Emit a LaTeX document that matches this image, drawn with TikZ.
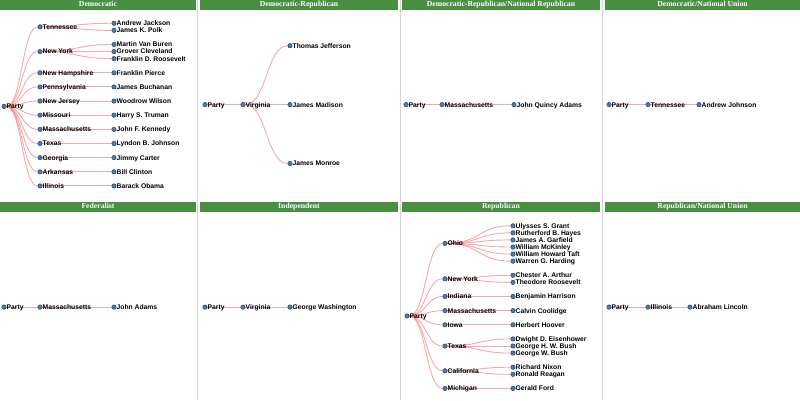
\documentclass[tikz,border=0pt]{standalone}
\usepackage{fontspec}
\setmainfont{Liberation Serif}
\setsansfont{Liberation Sans}
\usetikzlibrary{backgrounds}

\definecolor{headgreen}{RGB}{72,143,66}
\definecolor{dotblue}{RGB}{70,125,180}
\definecolor{linkred}{RGB}{240,110,110}
\definecolor{sepgray}{RGB}{212,212,212}

\begin{document}
\begin{tikzpicture}[x=1pt,y=-1pt,
    dot/.style={circle,fill=dotblue,draw=dotblue!55!black,line width=0.5pt,inner sep=0pt,minimum size=4.4pt,label distance=2.2pt},
    lbl/.style={font=\sffamily\bfseries\fontsize{6.75}{7}\selectfont,inner sep=0pt,text height=4.8pt,text depth=0pt},
    link/.style={draw=linkred,line width=0.9pt,opacity=0.6},
    sep/.style={draw=sepgray,line width=0.8pt},
    head/.style={fill=headgreen,text=white,font=\rmfamily\bfseries\fontsize{7.7}{8}\selectfont,inner sep=0pt,minimum height=10pt,text height=5.2pt,text depth=1.4pt}]
    \useasboundingbox (0,0) rectangle (800,400);

    % panel borders
    \draw[sep] (197.8,0) -- (197.8,400);
    \draw[sep] (400.2,0) -- (400.2,400);
    \draw[sep] (602.5,0) -- (602.5,400);

    % headers
    \node[head,minimum width=196pt] (hdrDem) at (98,5) {Democratic};
    \node[head,minimum width=198pt] (hdrDR) at (299,5) {Democratic-Republican};
    \node[head,minimum width=198pt] (hdrDRNR) at (501,5) {Democratic-Republican/National Republican};
    \node[head,minimum width=195pt] (hdrDNU) at (702.5,5) {Democratic/National Union};
    \node[head,minimum width=196pt] (hdrFed) at (98,206.5) {Federalist};
    \node[head,minimum width=198pt] (hdrInd) at (299,206.5) {Independent};
    \node[head,minimum width=198pt] (hdrRep) at (501,206.5) {Republican};
    \node[head,minimum width=195pt] (hdrRNU) at (702.5,206.5) {Republican/National Union};

    % Democratic
    \node[dot,label={[lbl]right:Party}] (demParty) at (4,106.4) {};
    \foreach \n/\t/\k in {demTN/Tennessee/1.5, demNY/New York/5, demNH/New Hampshire/8,
        demPA/Pennsylvania/10, demNJ/New Jersey/12, demMO/Missouri/14, demMA/Massachusetts/16,
        demTX/Texas/18, demGA/Georgia/20, demAR/Arkansas/22, demIL/Illinois/24} {
        \node[dot,label={[lbl]right:\t}] (\n) at (40,{16.2+7.072*\k}) {};
        \begin{scope}[on background layer]
            \draw[link] (demParty) .. controls +(18,0) and +(-18,0) .. (\n);
        \end{scope}
    }
    \foreach \n/\t/\k/\p in {demJackson/Andrew Jackson/1/demTN, demPolk/James K. Polk/2/demTN,
        demVanBuren/Martin Van Buren/4/demNY, demCleveland/Grover Cleveland/5/demNY,
        demFDR/Franklin D. Roosevelt/6/demNY, demPierce/Franklin Pierce/8/demNH,
        demBuchanan/James Buchanan/10/demPA, demWilson/Woodrow Wilson/12/demNJ,
        demTruman/Harry S. Truman/14/demMO, demKennedy/John F. Kennedy/16/demMA,
        demLBJ/Lyndon B. Johnson/18/demTX, demCarter/Jimmy Carter/20/demGA,
        demClinton/Bill Clinton/22/demAR, demObama/Barack Obama/24/demIL} {
        \node[dot,label={[lbl]right:\t}] (\n) at (114,{16.2+7.072*\k}) {};
        \begin{scope}[on background layer]
            \draw[link] (\p) .. controls +(37,0) and +(-37,0) .. (\n);
        \end{scope}
    }

    % Democratic-Republican
    \node[dot,label={[lbl]right:Party}] (drParty) at (205,104.6) {};
    \node[dot,label={[lbl]right:Virginia}] (drVA) at (243,104.6) {};
    \node[dot,label={[lbl]right:Thomas Jefferson}] (drJefferson) at (290,45.7) {};
    \node[dot,label={[lbl]right:James Madison}] (drMadison) at (290,104.6) {};
    \node[dot,label={[lbl]right:James Monroe}] (drMonroe) at (290,163.5) {};
    \begin{scope}[on background layer]
        \draw[link] (drParty) -- (drVA);
        \foreach \n in {drJefferson,drMadison,drMonroe}
            \draw[link] (drVA) .. controls +(23.5,0) and +(-23.5,0) .. (\n);
    \end{scope}

    % Democratic-Republican/National Republican
    \node[dot,label={[lbl]right:Party}] (drnrParty) at (406,104.6) {};
    \node[dot,label={[lbl]right:Massachusetts}] (drnrMA) at (442,104.6) {};
    \node[dot,label={[lbl]right:John Quincy Adams}] (drnrJQA) at (514,104.6) {};

    % Democratic/National Union
    \node[dot,label={[lbl]right:Party}] (dnuParty) at (609,104.6) {};
    \node[dot,label={[lbl]right:Tennessee}] (dnuTN) at (648,104.6) {};
    \node[dot,label={[lbl]right:Andrew Johnson}] (dnuJohnson) at (699,104.6) {};

    % Federalist
    \node[dot,label={[lbl]right:Party}] (fedParty) at (4,307.1) {};
    \node[dot,label={[lbl]right:Massachusetts}] (fedMA) at (40,307.1) {};
    \node[dot,label={[lbl]right:John Adams}] (fedAdams) at (114,307.1) {};

    % Independent
    \node[dot,label={[lbl]right:Party}] (indParty) at (205,307.1) {};
    \node[dot,label={[lbl]right:Virginia}] (indVA) at (243,307.1) {};
    \node[dot,label={[lbl]right:George Washington}] (indWashington) at (290,307.1) {};

    % Republican/National Union
    \node[dot,label={[lbl]right:Party}] (rnuParty) at (609,307.1) {};
    \node[dot,label={[lbl]right:Illinois}] (rnuIL) at (648,307.1) {};
    \node[dot,label={[lbl]right:Abraham Lincoln}] (rnuLincoln) at (690,307.1) {};

    \begin{scope}[on background layer]
        \draw[link] (drnrParty) -- (drnrMA) -- (drnrJQA);
        \draw[link] (dnuParty) -- (dnuTN) -- (dnuJohnson);
        \draw[link] (fedParty) -- (fedMA) -- (fedAdams);
        \draw[link] (indParty) -- (indVA) -- (indWashington);
        \draw[link] (rnuParty) -- (rnuIL) -- (rnuLincoln);
    \end{scope}

    % Republican
    \node[dot,label={[lbl]right:Party}] (repParty) at (407,{218.7+7.072*13.75}) {};
    \foreach \n/\t/\k in {repOH/Ohio/3.5, repNY/New York/8.5, repIN/Indiana/11,
        repMA/Massachusetts/13, repIA/Iowa/15, repTX/Texas/18, repCA/California/21.5,
        repMI/Michigan/24} {
        \node[dot,label={[lbl]right:\t}] (\n) at (445,{218.7+7.072*\k}) {};
        \begin{scope}[on background layer]
            \draw[link] (repParty) .. controls +(19,0) and +(-19,0) .. (\n);
        \end{scope}
    }
    \foreach \n/\t/\k/\p in {repGrant/Ulysses S. Grant/1/repOH, repHayes/Rutherford B. Hayes/2/repOH,
        repGarfield/James A. Garfield/3/repOH, repMcKinley/William McKinley/4/repOH,
        repTaft/William Howard Taft/5/repOH, repHarding/Warren G. Harding/6/repOH,
        repArthur/Chester A. Arthur/8/repNY, repRoosevelt/Theodore Roosevelt/9/repNY,
        repHarrison/Benjamin Harrison/11/repIN, repCoolidge/Calvin Coolidge/13/repMA,
        repHoover/Herbert Hoover/15/repIA, repEisenhower/Dwight D. Eisenhower/17/repTX,
        repBushSr/George H. W. Bush/18/repTX, repBushJr/George W. Bush/19/repTX,
        repNixon/Richard Nixon/21/repCA, repReagan/Ronald Reagan/22/repCA,
        repFord/Gerald Ford/24/repMI} {
        \node[dot,label={[lbl]right:\t}] (\n) at (513,{218.7+7.072*\k}) {};
        \begin{scope}[on background layer]
            \draw[link] (\p) .. controls +(34,0) and +(-34,0) .. (\n);
        \end{scope}
    }
\end{tikzpicture}
\end{document}
